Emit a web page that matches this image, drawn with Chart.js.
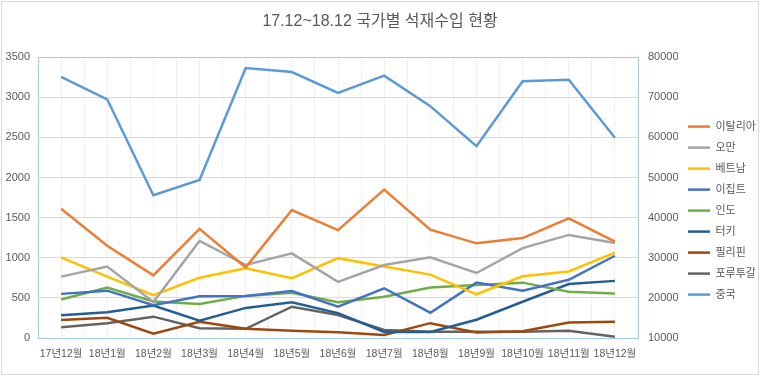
<!DOCTYPE html>
<html>
<head>
<meta charset="utf-8">
<script src="https://cdn.jsdelivr.net/npm/chart.js@4/dist/chart.umd.min.js"></script>
<style>
  body { margin: 0; background: #fff; }
  #wrap { position: relative; width: 760px; height: 376px; }
  #frame { position: absolute; left: 1px; top: 1px; right: 1px; bottom: 1px; border: 1px solid #d9d9d9; pointer-events: none; }
</style>
</head>
<body>
<div id="wrap">
  <canvas id="importChart" width="760" height="376"></canvas>
  <div id="frame"></div>
</div>
<script>
var months = ['17년12월', '18년1월', '18년2월', '18년3월', '18년4월', '18년5월', '18년6월',
              '18년7월', '18년8월', '18년9월', '18년10월', '18년11월', '18년12월'];

var italy       = [1610, 1150, 780, 1360, 880, 1595, 1345, 1850, 1350, 1180, 1245, 1490, 1200];
var oman        = [765, 890, 450, 1210, 910, 1055, 700, 910, 1005, 810, 1120, 1285, 1185];
var vietnam     = [1005, 765, 535, 750, 870, 745, 995, 890, 790, 545, 770, 830, 1065];
var egypt       = [550, 590, 410, 520, 525, 585, 390, 620, 315, 690, 590, 725, 1025];
var india       = [480, 630, 455, 425, 525, 565, 445, 515, 630, 660, 690, 577, 556];
var turkey      = [285, 320, 405, 215, 375, 445, 310, 75, 75, 228, 452, 673, 712];
var philippines = [224, 253, 55, 203, 115, 91, 71, 37, 185, 70, 83, 193, 203];
var portugal    = [133, 183, 266, 121, 115, 390, 286, 100, 79, 79, 79, 89, 17];
var china       = [75100, 69500, 45600, 49400, 77300, 76300, 71100, 75400, 67800, 57800, 74000, 74400, 59900];

var textColor = '#595959';
var fontFamily = '"Liberation Sans", "Noto Sans CJK KR", sans-serif';

function series(label, data, color, axis) {
  return {
    label: label,
    data: data,
    borderColor: color,
    backgroundColor: color,
    borderWidth: 2.5,
    pointRadius: 0,
    tension: 0,
    yAxisID: axis || 'y'
  };
}

// plain numbers, no thousands separator
function plain(value) { return String(value); }

var ctx = document.getElementById('importChart').getContext('2d');

var importChart = new Chart(ctx, {
  type: 'line',
  data: {
    labels: months,
    datasets: [
      series('이탈리아', italy, '#ED7D31'),
      series('오만', oman, '#A5A5A5'),
      series('베트남', vietnam, '#FFC000'),
      series('이집트', egypt, '#4472C4'),
      series('인도', india, '#70AD47'),
      series('터키', turkey, '#255E91'),
      series('필리핀', philippines, '#9E480E'),
      series('포루투갈', portugal, '#636363'),
      series('중국', china, '#5B9BD5', 'y1')
    ]
  },
  options: {
    responsive: false,
    animation: false,
    devicePixelRatio: 1,
    layout: { padding: { left: 0, right: 0, top: 0, bottom: 13 } },
    plugins: {
      title: {
        display: true,
        text: '17.12~18.12 국가별 석재수입 현황',
        color: textColor,
        font: { family: fontFamily, size: 16, weight: 'normal' },
        padding: { top: 12, bottom: 26 }
      },
      legend: {
        position: 'right',
        maxWidth: 82,
        // empty title just pushes the items down a bit
        title: {
          display: true,
          text: ' ',
          font: { family: fontFamily, size: 11 },
          padding: { top: 22, bottom: 23 }
        },
        labels: {
          color: textColor,
          font: { family: fontFamily, size: 11 },
          usePointStyle: true,
          pointStyle: 'line',
          pointStyleWidth: 22,
          padding: 10
        }
      },
      tooltip: { enabled: false }
    },
    scales: {
      x: {
        offset: true,
        grid: { color: '#f0f0f0', offset: false, drawTicks: false },
        border: { color: '#a9c9e8', width: 1 },
        ticks: {
          color: textColor,
          font: { family: fontFamily, size: 10.5 },
          maxRotation: 0,
          autoSkip: false,
          padding: 10
        },
        afterFit: function(scale) { scale.height = 25; }
      },
      x2: {
        position: 'top',
        offset: true,
        grid: { color: '#f0f0f0', offset: true, drawTicks: false },
        border: { color: '#a9c9e8', width: 1 },
        ticks: { display: false },
        afterFit: function(scale) { scale.height = 0; }
      },
      y: {
        position: 'left',
        min: 0,
        max: 3500,
        grid: { color: '#d9d9d9', drawTicks: false },
        border: { color: '#a9c9e8', width: 1 },
        ticks: {
          stepSize: 500,
          color: textColor,
          font: { family: fontFamily, size: 11 },
          padding: 8,
          callback: plain
        },
        afterFit: function(scale) { scale.width = 38; }
      },
      y1: {
        position: 'right',
        min: 10000,
        max: 80000,
        grid: { display: false, drawTicks: false },
        border: { color: '#a9c9e8', width: 1 },
        ticks: {
          stepSize: 10000,
          color: textColor,
          font: { family: fontFamily, size: 11 },
          padding: 10,
          callback: plain
        },
        afterFit: function(scale) { scale.width = 40; }
      }
    }
  }
});
</script>
</body>
</html>
